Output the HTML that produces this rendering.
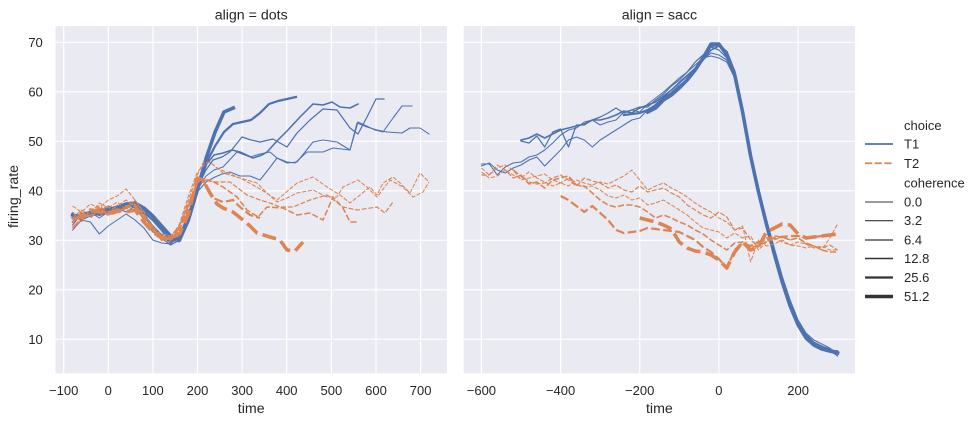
<!DOCTYPE html>
<html><head><meta charset="utf-8"><style>
html,body{margin:0;padding:0;background:#fff;}
svg{display:block;font-family:"Liberation Sans","DejaVu Sans",sans-serif;}
.b{fill:none;stroke:#4c72b0;stroke-linejoin:round;stroke-linecap:square;}
.o{fill:none;stroke:#dd8452;stroke-linejoin:round;stroke-linecap:butt;}
.g{stroke:#fff;stroke-width:1.2;}
.t{font-size:13px;fill:#262626;}
.l{font-size:14.2px;fill:#262626;}
</style></head><body>
<svg width="978" height="425" viewBox="0 0 978 425" xmlns="http://www.w3.org/2000/svg">
<defs>
<clipPath id="cl"><rect x="55.5" y="26" width="391.5" height="347.3"/></clipPath>
<clipPath id="cr"><rect x="463.7" y="26" width="391.3" height="347.3"/></clipPath>
</defs>
<!-- axes backgrounds -->
<rect x="55.5" y="26" width="391.5" height="347.3" fill="#eaeaf2"/>
<rect x="463.7" y="26" width="391.3" height="347.3" fill="#eaeaf2"/>
<!-- left grid -->
<g class="g">
<line x1="63.7" y1="26" x2="63.7" y2="373.3"/>
<line x1="108.3" y1="26" x2="108.3" y2="373.3"/>
<line x1="152.9" y1="26" x2="152.9" y2="373.3"/>
<line x1="197.5" y1="26" x2="197.5" y2="373.3"/>
<line x1="242.1" y1="26" x2="242.1" y2="373.3"/>
<line x1="286.7" y1="26" x2="286.7" y2="373.3"/>
<line x1="331.4" y1="26" x2="331.4" y2="373.3"/>
<line x1="376" y1="26" x2="376" y2="373.3"/>
<line x1="420.6" y1="26" x2="420.6" y2="373.3"/>
<line x1="55.5" y1="42.3" x2="447" y2="42.3"/>
<line x1="55.5" y1="91.8" x2="447" y2="91.8"/>
<line x1="55.5" y1="141.3" x2="447" y2="141.3"/>
<line x1="55.5" y1="190.8" x2="447" y2="190.8"/>
<line x1="55.5" y1="240.3" x2="447" y2="240.3"/>
<line x1="55.5" y1="289.8" x2="447" y2="289.8"/>
<line x1="55.5" y1="339.3" x2="447" y2="339.3"/>
<!-- right grid -->
<line x1="481.4" y1="26" x2="481.4" y2="373.3"/>
<line x1="560.6" y1="26" x2="560.6" y2="373.3"/>
<line x1="639.7" y1="26" x2="639.7" y2="373.3"/>
<line x1="718.9" y1="26" x2="718.9" y2="373.3"/>
<line x1="798.1" y1="26" x2="798.1" y2="373.3"/>
<line x1="463.7" y1="42.3" x2="855" y2="42.3"/>
<line x1="463.7" y1="91.8" x2="855" y2="91.8"/>
<line x1="463.7" y1="141.3" x2="855" y2="141.3"/>
<line x1="463.7" y1="190.8" x2="855" y2="190.8"/>
<line x1="463.7" y1="240.3" x2="855" y2="240.3"/>
<line x1="463.7" y1="289.8" x2="855" y2="289.8"/>
<line x1="463.7" y1="339.3" x2="855" y2="339.3"/>
</g>

<!-- LEFT PANEL LINES -->
<g clip-path="url(#cl)">
<!-- blue -->
<polyline class="b" stroke-width="1.05" points="72.6,230 81.5,220 90.4,222 99.3,234 108.3,226 117.2,220 126.1,214 135,220 143.9,228 152.8,240 161.7,243 170.6,244 179.5,236 188.4,212 197.3,192 206,182 215,177 222,174 230,172 240,176 250,176 260,180 268,170 277,158 287,163 297,162 305,152 313,142 323,140 337,142 350,150 357,123 367,127 377,130 387,132 402,133 410,128 420,128 429,134"/>
<polyline class="b" stroke-width="1.05" points="72.6,225 81.5,214 90.4,212 99.3,218 108.3,212 117.2,208 126.1,212 135,206 143.9,220 152.8,232 161.7,236 170.6,240 179.5,242 188.4,216 197.3,190 206,176 214,170 223,167 237,152 250,157 260,154 270,152 277,158 287,162 295,163 307,152 323,152 333,148 350,150 358,122 375,130 383,132 393,118 402,106 412,106"/>
<polyline class="b" stroke-width="1.22" points="72.6,213 81.5,220 90.4,216 99.3,214 108.3,206 117.2,210 126.1,204 135,208 143.9,217 152.8,227 161.7,238 170.6,245 179.5,240 188.4,214 197.3,188 206,170 213,160 222,157 230,152 242,137 251,140 260,142 273,139 287,147 297,133 310,120 323,109 337,110 350,128 358,134 367,117 376,99 384,99"/>
<polyline class="b" stroke-width="1.55" points="72.6,222 81.5,216 90.4,214 99.3,210 108.3,208 117.2,212 126.1,207 135,205 143.9,214 152.8,226 161.7,235 170.6,243 179.5,237 188.4,215 197.3,190 206.7,164 214,155 223,153 232,150 240,152 253,158 262,155 267,152 277,141 287,131 300,117 313,104 323,105 332,102 340,107 350,108 358,104"/>
<polyline class="b" stroke-width="2.21" points="72.6,218 81.5,214 90.4,212 99.3,215 108.3,212 117.2,209 126.1,206 135,204 143.9,212 152.8,220 161.7,230 170.6,241 179.5,238 188.4,218 197.3,186 206.2,163 215.1,146 224,132 233,124 242,122 251,120 260,113 269,104 278,101 287,99 296,97"/>
<polyline class="b" stroke-width="3.54" points="72.6,215 81.5,217 90.4,213 99.3,211 108.3,210 117.2,207 126.1,204 135,203 143.9,208 152.8,216 161.7,226 170.6,236 179.5,240 188.4,220 197.3,190 206.2,158 215.1,132 224,112 228.5,110 233.3,108"/>
<!-- orange -->
<polyline class="o" stroke-width="1.05" stroke-dasharray="4.2 1.6" points="72.6,218 81.5,210 90.4,214 99.3,203 108.3,208 117.2,202 126.1,210 135,200 143.9,214 152.8,226 161.7,236 170.6,238 179.5,224 188.4,196 197.3,172 204,165 210,162 223,173 240,178 253,185 265,192 277,200 297,183 313,177 327,187 340,195 350,203 360,195 370,187 377,195 383,183 393,177 400,183 410,193 420,173 429,182"/>
<polyline class="o" stroke-width="1.05" stroke-dasharray="4.2 1.6" points="72.6,206 81.5,212 90.4,204 99.3,208 108.3,200 117.2,196 126.1,189 135,200 143.9,212 152.8,228 161.7,240 170.6,242 179.5,226 188.4,200 197.3,175 203,163 210,162 217,168 237,177 257,183 267,193 277,202 287,198 297,193 313,190 327,197 337,197 343,187 358,180 367,187 377,197 390,180 403,187 413,197 423,192 429,182"/>
<polyline class="o" stroke-width="1.22" stroke-dasharray="4.9 1.8" points="72.6,212 81.5,222 90.4,210 99.3,206 108.3,212 117.2,206 126.1,200 135,207 143.9,220 152.8,230 161.7,234 170.6,236 179.5,226 188.4,204 197.3,182 203,180 215,182 230,182 247,195 260,200 270,203 280,207 293,207 310,200 327,195 343,207 357,210 377,207 385,213 393,202"/>
<polyline class="o" stroke-width="1.55" stroke-dasharray="6.2 2.3" points="72.6,223 81.5,212 90.4,218 99.3,209 108.3,207 117.2,214 126.1,206 135,204 143.9,216 152.8,231 161.7,236 170.6,240 179.5,230 188.4,208 197.3,184 200,180 210,180 223,187 237,197 247,210 258,217 267,207 283,208 297,215 310,213 323,220 333,197 343,208 350,222 357,222"/>
<polyline class="o" stroke-width="2.21" stroke-dasharray="8.8 3.3" points="72.6,228 81.5,219 90.4,213 99.3,208 108.3,215 117.2,212 126.1,208 135,205 143.9,218 152.8,228 161.7,240 170.6,238 179.5,228 188.4,205 197.3,182 203,180 208,190 213,198 223,202 233,200 240,207 250,215 260,218"/>
<polyline class="o" stroke-width="3.54" stroke-dasharray="14.2 5.3" points="72.6,220 81.5,216 90.4,210 99.3,212 108.3,214 117.2,210 126.1,212 135,210 143.9,222 152.8,232 161.7,238 170.6,238 179.5,234 188.4,214 197.3,178 203,180 210,193 217,204 223,208 233,212 243,220 250,226 257,233 270,237 280,240 287,250 295,251 303,242"/>
</g>

<!-- RIGHT PANEL LINES -->
<g clip-path="url(#cr)">
<!-- blue -->
<polyline class="b" stroke-width="1.05" points="481.4,164 489.3,164 497.3,175 505.2,167 513.1,163 521,162 529,157 536.8,155 544.7,150 552.7,143 560.6,135 568.5,130 576.4,128 584.3,122 592.3,120 600.2,125 608.1,122 616,120 623.9,112 631.8,110 639.7,112 647.7,104 655.6,98 663.5,92 671.4,85 679.3,78 687.2,72 695.2,65 703.1,58 711,56 718.9,58 726.8,62 734.7,78 742.6,113 750.6,155 758.5,190 766.4,220 774.3,250 782.2,278 790.1,302 798.1,322 806,334 813.9,342 821.8,346 829.7,349 837.6,352"/>
<polyline class="b" stroke-width="1.05" points="481.4,166 489.3,163 497.3,170 505.2,173 513.1,168 521,165 529,160 536.8,157 544.7,166 552.7,158 560.6,150 568.5,140 576.4,137 584.3,140 592.3,147 600.2,140 608.1,135 616,130 623.9,125 631.8,120 639.7,118 647.7,110 655.6,105 663.5,97 671.4,90 679.3,82 687.2,75 695.2,68 703.1,60 711,53 718.9,55 726.8,60 734.7,77 742.6,112 750.6,152 758.5,188 766.4,220 774.3,248 782.2,276 790.1,300 798.1,320 806,333 813.9,340 821.8,344 829.7,348 837.6,354"/>
<polyline class="b" stroke-width="1.22" points="521,141 529,143 536.8,136 544.7,147 552.7,132 560.6,129 568.5,147 576.4,125 584.3,125 592.3,120 600.2,117 608.1,113 616,108 623.9,113 631.8,110 639.7,107 647.7,107 655.6,100 663.5,94 671.4,86 679.3,80 687.2,72 695.2,62 703.1,55 711,47 718.9,50 726.8,58 734.7,76 742.6,114 750.6,158 758.5,192 766.4,222 774.3,252 782.2,280 790.1,304 798.1,324 806,337 813.9,344 821.8,348 829.7,350 837.6,356"/>
<polyline class="b" stroke-width="1.55" points="521,140 529,138 536.8,134 544.7,138 552.7,134 560.6,130 568.5,128 576.4,126 584.3,124 592.3,120 600.2,120 608.1,118 616,115 623.9,111 631.8,113 639.7,108 647.7,105 655.6,102 663.5,96 671.4,90 679.3,83 687.2,76 695.2,68 703.1,60 711,50 718.9,46 726.8,54 734.7,74 742.6,110 750.6,154 758.5,190 766.4,220 774.3,250 782.2,278 790.1,302 798.1,322 806,336 813.9,343 821.8,347 829.7,350 837.6,351"/>
<polyline class="b" stroke-width="2.21" points="623.9,115 631.8,114 639.7,113 647.7,110 655.6,105 663.5,98 671.4,93 679.3,86 687.2,80 695.2,70 703.1,58 711,46 718.9,45 726.8,52 734.7,72 742.6,110 750.6,155 758.5,190 766.4,222 774.3,252 782.2,280 790.1,305 798.1,323 806,336 813.9,343 821.8,347 829.7,350 837.6,352"/>
<polyline class="b" stroke-width="3.54" points="647.7,112 655.6,108 663.5,100 671.4,95 679.3,88 687.2,80 695.2,70 703.1,58 711,44 718.9,44 726.8,55 734.7,75 742.6,112 750.6,156 758.5,192 766.4,224 774.3,254 782.2,282 790.1,306 798.1,325 806,338 813.9,345 821.8,349 829.7,351 837.6,353"/>
<!-- orange -->
<polyline class="o" stroke-width="1.05" stroke-dasharray="4.2 1.6" points="481.4,172 489.3,178 497.3,176 505.2,170 513.1,175 521,178 529,172 536.8,178 544.7,182 552.7,186 560.6,183 568.5,186 576.4,180 584.3,183 592.3,185 600.2,182 608.1,184 616,180 623.9,176 631.8,170 639.7,180 647.7,190 655.6,186 663.5,183 671.4,188 679.3,192 687.2,197 695.2,203 703.1,208 711,212 718.9,218 726.8,222 734.7,230 742.6,226 750.6,262 758.5,240 766.4,246 774.3,244 782.2,240 790.1,245 798.1,246 806,248 813.9,246 821.8,250 829.7,238 837.6,224"/>
<polyline class="o" stroke-width="1.05" stroke-dasharray="4.2 1.6" points="481.4,168 489.3,175 497.3,168 505.2,165 513.1,170 521,180 529,178 536.8,176 544.7,174 552.7,180 560.6,183 568.5,178 576.4,185 584.3,187 592.3,186 600.2,190 608.1,196 616,198 623.9,195 631.8,200 639.7,198 647.7,205 655.6,203 663.5,200 671.4,205 679.3,210 687.2,215 695.2,222 703.1,228 711,230 718.9,232 726.8,238 734.7,233 742.6,238 750.6,236 758.5,250 766.4,242 774.3,238 782.2,242 790.1,245 798.1,242 806,244 813.9,248 821.8,246 829.7,250 837.6,250"/>
<polyline class="o" stroke-width="1.22" stroke-dasharray="4.9 1.8" points="481.4,175 489.3,175 497.3,165 505.2,170 513.1,178 521,175 529,182 536.8,184 544.7,183 552.7,178 560.6,175 568.5,180 576.4,186 584.3,178 592.3,181 600.2,183 608.1,188 616,185 623.9,190 631.8,192 639.7,186 647.7,192 655.6,190 663.5,188 671.4,193 679.3,197 687.2,205 695.2,210 703.1,215 711,218 718.9,212 726.8,217 734.7,230 742.6,228 750.6,240 758.5,247 766.4,241 774.3,240 782.2,236 790.1,240 798.1,238 806,244 813.9,246 821.8,248 829.7,245 837.6,250"/>
<polyline class="o" stroke-width="1.55" stroke-dasharray="6.2 2.3" points="513.1,170 521,176 529,184 536.8,182 544.7,188 552.7,180 560.6,178 568.5,176 576.4,185 584.3,186 592.3,193 600.2,200 608.1,205 616,207 623.9,205 631.8,205 639.7,207 647.7,212 655.6,218 663.5,215 671.4,218 679.3,222 687.2,225 695.2,230 703.1,234 711,240 718.9,245 726.8,250 734.7,243 742.6,242 750.6,248 758.5,245 766.4,238 774.3,236 782.2,237 790.1,240 798.1,238 806,243 813.9,246 821.8,250 829.7,252 837.6,252"/>
<polyline class="o" stroke-width="2.21" stroke-dasharray="8.8 3.3" points="560.6,196 568.5,200 576.4,206 584.3,212 592.3,206 600.2,213 608.1,220 616,230 623.9,233 631.8,232 639.7,231 647.7,228 655.6,229 663.5,230 671.4,231 679.3,232 687.2,236 695.2,240 703.1,247 711,252 718.9,259 726.8,268 734.7,250 742.6,243 750.6,246 758.5,242 766.4,240 774.3,238 782.2,237 790.1,236 798.1,236 806,238 813.9,237 821.8,236 829.7,235 837.6,233"/>
<polyline class="o" stroke-width="3.54" stroke-dasharray="14.2 5.3" points="639.7,218 647.7,220 655.6,222 663.5,225 671.4,229 679.3,242 687.2,248 695.2,251 703.1,252 711,255 718.9,260 726.8,268 734.7,252 742.6,242 750.6,250 758.5,247 766.4,232 774.3,228 782.2,224 790.1,225 798.1,234 806,238 813.9,237 821.8,236 829.7,235 837.6,234"/>
</g>

<!-- titles -->
<text class="l" x="251.2" y="19.5" text-anchor="middle">align = dots</text>
<text class="l" x="659.4" y="19.5" text-anchor="middle">align = sacc</text>

<!-- y tick labels -->
<g class="t" text-anchor="end">
<text x="42.8" y="47">70</text>
<text x="42.8" y="96.5">60</text>
<text x="42.8" y="146">50</text>
<text x="42.8" y="195.5">40</text>
<text x="42.8" y="245">30</text>
<text x="42.8" y="294.5">20</text>
<text x="42.8" y="344">10</text>
</g>

<!-- x tick labels -->
<g class="t" text-anchor="middle">
<text x="63.7" y="395">−100</text>
<text x="108.3" y="395">0</text>
<text x="152.9" y="395">100</text>
<text x="197.5" y="395">200</text>
<text x="242.1" y="395">300</text>
<text x="286.7" y="395">400</text>
<text x="331.4" y="395">500</text>
<text x="376" y="395">600</text>
<text x="420.6" y="395">700</text>
<text x="481.4" y="395">−600</text>
<text x="560.6" y="395">−400</text>
<text x="639.7" y="395">−200</text>
<text x="718.9" y="395">0</text>
<text x="798.1" y="395">200</text>
</g>

<!-- axis labels -->
<text class="l" x="251.2" y="413" text-anchor="middle">time</text>
<text class="l" x="659.4" y="413" text-anchor="middle">time</text>
<text class="l" transform="translate(18,196.5) rotate(-90)" text-anchor="middle">firing_rate</text>

<!-- legend -->
<g class="t">
<text x="904" y="130">choice</text>
<text x="904" y="148.5">T1</text>
<text x="904" y="168">T2</text>
<text x="904" y="187.5">coherence</text>
<text x="904" y="206.5">0.0</text>
<text x="904" y="225">3.2</text>
<text x="904" y="244.5">6.4</text>
<text x="904" y="263">12.8</text>
<text x="904" y="282">25.6</text>
<text x="904" y="301">51.2</text>
</g>
<line x1="865" y1="144" x2="893" y2="144" stroke="#4c72b0" stroke-width="1.77"/>
<line x1="865" y1="163.3" x2="893" y2="163.3" stroke="#dd8452" stroke-width="1.77" stroke-dasharray="7.1 2.65"/>
<line x1="865" y1="202" x2="893" y2="202" stroke="#333" stroke-width="0.89"/>
<line x1="865" y1="220.7" x2="893" y2="220.7" stroke="#333" stroke-width="1.05"/>
<line x1="865" y1="240" x2="893" y2="240" stroke="#333" stroke-width="1.22"/>
<line x1="865" y1="258.5" x2="893" y2="258.5" stroke="#333" stroke-width="1.55"/>
<line x1="865" y1="277.5" x2="893" y2="277.5" stroke="#333" stroke-width="2.21"/>
<line x1="865" y1="296.5" x2="893" y2="296.5" stroke="#333" stroke-width="3.54"/>
</svg>
</body></html>
